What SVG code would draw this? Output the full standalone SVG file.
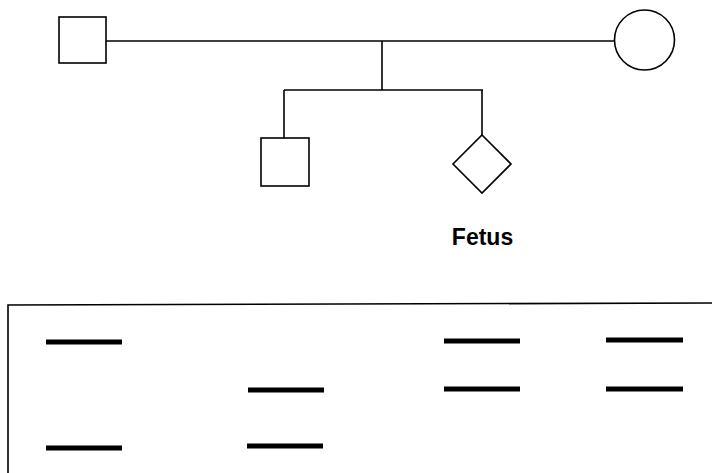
<svg xmlns="http://www.w3.org/2000/svg" width="712" height="473" viewBox="0 0 712 473">
<style>
.sym{fill:#fff;stroke:#000;stroke-width:1.6}
.ln{fill:none;stroke:#000;stroke-width:1.6}
.band{stroke:#000;stroke-width:5}
.lbl{font-family:"Liberation Sans",Arial,sans-serif;font-weight:bold;font-size:23px;fill:#000}
</style>
<rect width="712" height="473" fill="#fff"/>
<g id="connectors">
<line class="ln" x1="106" y1="41" x2="614" y2="41"/>
<line class="ln" x1="382" y1="41" x2="382" y2="90"/>
<line class="ln" x1="284" y1="90" x2="483" y2="90"/>
<line class="ln" x1="284" y1="90" x2="284" y2="138"/>
<line class="ln" x1="482" y1="90" x2="482" y2="135"/>
</g>
<g id="father"><rect class="sym" x="59" y="17" width="47" height="46"/></g>
<g id="mother"><circle class="sym" cx="644.5" cy="40" r="30"/></g>
<g id="son"><rect class="sym" x="261" y="138" width="48" height="48"/></g>
<g id="fetus">
<polygon class="sym" points="482,135 511,164 482,193 453,164"/>
<text class="lbl" x="482.5" y="245" text-anchor="middle">Fetus</text>
</g>
<g id="gel">
<polyline class="ln" points="712,303 8,305 8,473"/>
<line class="band" x1="46" y1="342" x2="122" y2="342"/>
<line class="band" x1="46" y1="448" x2="122" y2="448"/>
<line class="band" x1="248" y1="390" x2="324" y2="390"/>
<line class="band" x1="247" y1="446" x2="323" y2="446"/>
<line class="band" x1="444" y1="341" x2="520" y2="341"/>
<line class="band" x1="444" y1="389" x2="520" y2="389"/>
<line class="band" x1="606" y1="340" x2="683" y2="340"/>
<line class="band" x1="606" y1="389" x2="683" y2="389"/>
</g>
</svg>
